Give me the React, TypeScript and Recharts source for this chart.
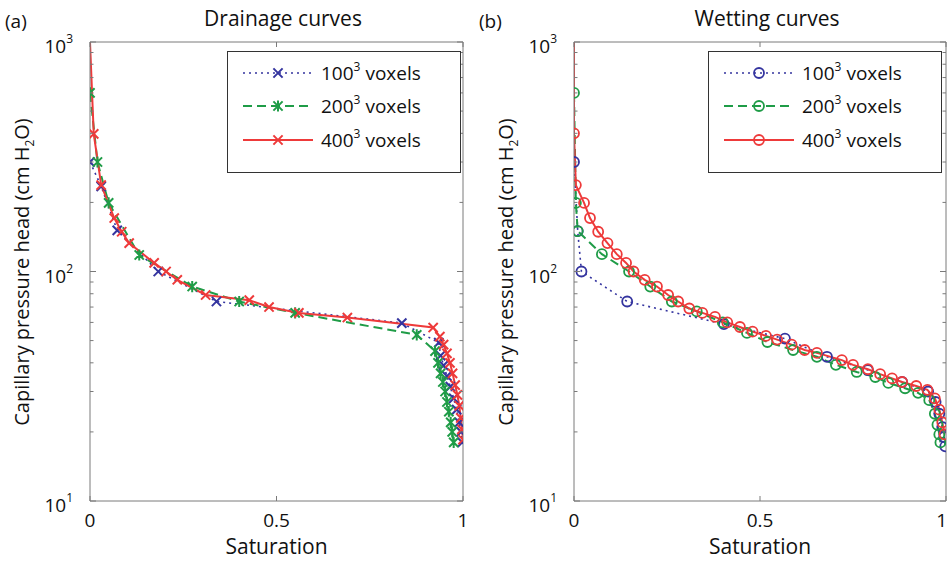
import React from 'react';
import { LineChart, Line, XAxis, YAxis } from 'recharts';

// (a) drainage: saturation s vs capillary pressure head p (cm H2O)
const drain100 = [
  { s: 0, p: 300 }, { s: 0.03, p: 235 }, { s: 0.073, p: 151 }, { s: 0.183, p: 100 },
  { s: 0.339, p: 74 }, { s: 0.836, p: 59.6 }, { s: 0.935, p: 49 }, { s: 0.94, p: 43 },
  { s: 0.948, p: 39 }, { s: 0.957, p: 35 }, { s: 0.966, p: 31.5 }, { s: 0.975, p: 28 },
  { s: 0.983, p: 25 }, { s: 0.99, p: 22 }, { s: 0.995, p: 20 }, { s: 0.998, p: 18 },
];
const drain200 = [
  { s: 0, p: 600 }, { s: 0.02, p: 300 }, { s: 0.05, p: 199 }, { s: 0.132, p: 118 },
  { s: 0.274, p: 86 }, { s: 0.4, p: 74 }, { s: 0.55, p: 66 }, { s: 0.876, p: 53 },
  { s: 0.925, p: 45 }, { s: 0.933, p: 40 }, { s: 0.94, p: 36 }, { s: 0.946, p: 33 },
  { s: 0.952, p: 30 }, { s: 0.957, p: 27 }, { s: 0.962, p: 24.5 }, { s: 0.967, p: 22 },
  { s: 0.971, p: 20 }, { s: 0.975, p: 18 },
];
const drain400 = [
  { s: 0, p: 1000 }, { s: 0.01, p: 398 }, { s: 0.03, p: 238 }, { s: 0.065, p: 171 },
  { s: 0.085, p: 149 }, { s: 0.105, p: 133 }, { s: 0.172, p: 109 }, { s: 0.204, p: 100 },
  { s: 0.234, p: 92 }, { s: 0.31, p: 79 }, { s: 0.427, p: 75 }, { s: 0.48, p: 70 },
  { s: 0.56, p: 66 }, { s: 0.69, p: 63 }, { s: 0.92, p: 57 }, { s: 0.938, p: 52 },
  { s: 0.948, p: 48 }, { s: 0.957, p: 44 }, { s: 0.965, p: 40 }, { s: 0.972, p: 36 },
  { s: 0.979, p: 32 }, { s: 0.985, p: 29 }, { s: 0.99, p: 26 }, { s: 0.994, p: 23 },
  { s: 0.997, p: 20.5 }, { s: 1, p: 18.5 },
];

// (b) wetting
const wet100 = [
  { s: 0, p: 300 }, { s: 0.01, p: 150 }, { s: 0.02, p: 100 }, { s: 0.143, p: 74 },
  { s: 0.403, p: 59 }, { s: 0.567, p: 51 }, { s: 0.68, p: 42.5 }, { s: 0.79, p: 37.2 },
  { s: 0.882, p: 33 }, { s: 0.952, p: 30 }, { s: 0.972, p: 27 }, { s: 0.982, p: 24 },
  { s: 0.99, p: 21 }, { s: 0.995, p: 19 }, { s: 0.998, p: 17.3 },
];
const wet200 = [
  { s: 0, p: 600 }, { s: 0.005, p: 199 }, { s: 0.01, p: 150 }, { s: 0.075, p: 119 },
  { s: 0.148, p: 100 }, { s: 0.205, p: 86 }, { s: 0.263, p: 74 }, { s: 0.33, p: 67 },
  { s: 0.4, p: 60 }, { s: 0.465, p: 54 }, { s: 0.52, p: 49.3 }, { s: 0.589, p: 45.5 },
  { s: 0.653, p: 42.5 }, { s: 0.704, p: 39.2 }, { s: 0.76, p: 36.5 }, { s: 0.81, p: 34.7 },
  { s: 0.845, p: 32.7 }, { s: 0.89, p: 31 }, { s: 0.925, p: 29.6 }, { s: 0.955, p: 27.5 },
  { s: 0.97, p: 24 }, { s: 0.977, p: 21.5 }, { s: 0.982, p: 19.5 }, { s: 0.985, p: 18 },
];
const wet400 = [
  { s: 0, p: 1000 }, { s: 0, p: 400 }, { s: 0.005, p: 238 }, { s: 0.027, p: 199 },
  { s: 0.043, p: 171 }, { s: 0.065, p: 149 }, { s: 0.09, p: 133 }, { s: 0.115, p: 119 },
  { s: 0.14, p: 109 }, { s: 0.16, p: 100 }, { s: 0.19, p: 92 }, { s: 0.223, p: 86 },
  { s: 0.253, p: 79 }, { s: 0.28, p: 74 }, { s: 0.31, p: 69 }, { s: 0.345, p: 66 },
  { s: 0.379, p: 63.4 }, { s: 0.412, p: 60 }, { s: 0.446, p: 57.3 }, { s: 0.48, p: 54.7 },
  { s: 0.516, p: 52.4 }, { s: 0.546, p: 50.5 }, { s: 0.585, p: 48 }, { s: 0.62, p: 45.5 },
  { s: 0.653, p: 44.2 }, { s: 0.72, p: 41.1 }, { s: 0.75, p: 39.2 }, { s: 0.79, p: 37.5 },
  { s: 0.823, p: 35.7 }, { s: 0.855, p: 34.2 }, { s: 0.882, p: 33 }, { s: 0.92, p: 31.7 },
  { s: 0.95, p: 30.5 }, { s: 0.97, p: 28 }, { s: 0.982, p: 25 }, { s: 0.99, p: 22 },
  { s: 0.996, p: 19.5 },
];

const legendLabels = ['100', '200', '400'];
const Y_MAJOR = [10, 100, 1000];
const Y_MINOR = [20, 30, 40, 50, 60, 70, 80, 90, 200, 300, 400, 500, 600, 700, 800, 900];
const Y_TICKS = [...Y_MAJOR, ...Y_MINOR].sort((a, b) => a - b);
const X_TICKS = [0, 0.5, 1];
const X_LABELS = ['0', '0.5', '1'];

const BLUE = '#34349f';
const GREEN = '#1f9c47';
const RED = '#ee3a3a';
const AXIS = '#7a7a7a';
const FONT = '"Open Sans", sans-serif';

type Kind = 'x' | 'star' | 'o';

function Mark({ kind, cx, cy, color }: { kind: Kind; cx: number; cy: number; color: string }) {
  const r = 4.6;
  if (kind === 'o') return <circle cx={cx} cy={cy} r={5} fill="none" stroke={color} strokeWidth={1.8} />;
  let d = `M${cx - r},${cy - r}L${cx + r},${cy + r}M${cx - r},${cy + r}L${cx + r},${cy - r}`;
  if (kind === 'star') d += `M${cx},${cy - r - 1}L${cx},${cy + r + 1}`;
  return <path d={d} stroke={color} strokeWidth={2} fill="none" />;
}

// no marker on the point sitting on the top edge of the axes
const dotFor = (kind: Kind, color: string) => (props: any) => {
  const { cx, cy, index, payload } = props;
  if (cx == null || cy == null || payload.p >= 1000) return <g key={`d${index}`} />;
  return <Mark key={`d${index}`} kind={kind} cx={cx} cy={cy} color={color} />;
};

const LeftTick = (props: any) => {
  const { x, y, payload } = props;
  const v = payload.value;
  const major = Y_MAJOR.includes(v);
  return (
    <g>
      <line x1={x} x2={x + (major ? 6 : 3.5)} y1={y} y2={y} stroke={AXIS} />
      {major && (
        <text x={x - 17} y={y + 11} textAnchor="end" fontSize={19} fill="#111" fontFamily={FONT}>
          10<tspan dy={-10} fontSize={12}>{String(Math.log10(v))}</tspan>
        </text>
      )}
    </g>
  );
};

const RightTick = (props: any) => {
  const { x, y, payload } = props;
  const major = Y_MAJOR.includes(payload.value);
  return <line x1={x - (major ? 6 : 3.5)} x2={x} y1={y} y2={y} stroke={AXIS} />;
};

const BottomTick = (props: any) => {
  const { x, y, payload, index, edge } = props;
  const atEdge = edge && index === X_TICKS.length - 1;
  return (
    <g>
      <line x1={x} x2={x} y1={y} y2={y - 5} stroke={AXIS} />
      <text x={atEdge ? x + 1 : x} y={y + 26} textAnchor={atEdge ? 'end' : 'middle'} fontSize={19}
        fill="#111" fontFamily={FONT}>
        {X_LABELS[index] ?? String(payload.value)}
      </text>
    </g>
  );
};

const TopTick = (props: any) => {
  const { x, y } = props;
  return <line x1={x} x2={x} y1={y} y2={y + 5} stroke={AXIS} />;
};

type Series = { data: { s: number; p: number }[]; color: string; kind: Kind; dash?: string; width: number };

function LegendBox({ left, series }: { left: number; series: Series[] }) {
  const rows = [22, 55, 89];
  return (
    <svg width={234} height={122} style={{ position: 'absolute', left, top: 51 }}>
      <rect x={0.5} y={0.5} width={233} height={121} fill="#fff" stroke="#333" />
      {series.map((s, i) => (
        <g key={i}>
          <line x1={16} x2={86} y1={rows[i]} y2={rows[i]} stroke={s.color} strokeWidth={s.width} strokeDasharray={s.dash} />
          <Mark kind={s.kind} cx={51} cy={rows[i]} color={s.color} />
          <text x={94} y={rows[i] + 7} fontSize={19} fill="#111" fontFamily={FONT}>
            {legendLabels[i]}
            <tspan dy={-9} fontSize={12}>3</tspan>
            <tspan dy={9}> voxels</tspan>
          </text>
        </g>
      ))}
    </svg>
  );
}

function Panel({ left, axisWidth, marginRight, series, title, letter, titleX, legendLeft, edge }: {
  left: number; axisWidth: number; marginRight: number; series: Series[];
  title: string; letter: string; titleX: number; legendLeft: number; edge: boolean;
}) {
  const plotCenter = axisWidth + (474 - axisWidth - marginRight - 1) / 2;
  return (
    <div style={{ position: 'absolute', left, top: 0, width: 474, height: 563 }}>
      <LineChart width={474} height={563} margin={{ top: 41, right: marginRight, bottom: 0, left: 0 }}>
        <XAxis xAxisId={0} dataKey="s" type="number" domain={[0, 1]} ticks={X_TICKS} interval={0}
          allowDataOverflow height={62} tickSize={0} tickMargin={0} tickLine={false}
          axisLine={{ stroke: AXIS }} tick={<BottomTick edge={edge} />} />
        <XAxis xAxisId="top" orientation="top" dataKey="s" type="number" domain={[0, 1]} ticks={X_TICKS}
          interval={0} allowDataOverflow height={1} tickSize={0} tickMargin={0} tickLine={false}
          axisLine={{ stroke: AXIS }} tick={<TopTick />} />
        <YAxis yAxisId={0} type="number" scale="log" domain={[10, 1000]} ticks={Y_TICKS} interval={0}
          allowDataOverflow width={axisWidth} tickSize={0} tickMargin={0} tickLine={false}
          axisLine={{ stroke: AXIS }} tick={<LeftTick />} />
        <YAxis yAxisId="r" orientation="right" type="number" scale="log" domain={[10, 1000]} ticks={Y_TICKS}
          interval={0} allowDataOverflow width={1} tickSize={0} tickMargin={0} tickLine={false}
          axisLine={{ stroke: AXIS }} tick={<RightTick />} />
        {series.map((s, i) => (
          <Line key={i} data={s.data} dataKey="p" type="linear" stroke={s.color} strokeWidth={s.width}
            strokeDasharray={s.dash} dot={dotFor(s.kind, s.color)} activeDot={false}
            isAnimationActive={false} />
        ))}
      </LineChart>
      <div style={{ position: 'absolute', left: 5, top: 8, fontSize: 19, fontFamily: FONT, color: '#111' }}>{letter}</div>
      <div style={{ position: 'absolute', left: titleX, top: 4, transform: 'translateX(-50%)', fontSize: 21,
        fontFamily: FONT, color: '#111', whiteSpace: 'nowrap' }}>{title}</div>
      <div style={{ position: 'absolute', left: plotCenter, top: 532, transform: 'translateX(-50%)', fontSize: 21,
        fontFamily: FONT, color: '#111', whiteSpace: 'nowrap' }}>Saturation</div>
      <div style={{ position: 'absolute', left: axisWidth - 68, top: 272, transform: 'translate(-50%,-50%) rotate(-90deg)',
        fontSize: 20, fontFamily: FONT, color: '#111', whiteSpace: 'nowrap', lineHeight: '24px' }}>
        Capillary pressure head (cm H<sub style={{ fontSize: 12, lineHeight: 0 }}>2</sub>O)
      </div>
      <LegendBox left={legendLeft} series={series} />
    </div>
  );
}

const drainSeries: Series[] = [
  { data: drain100, color: BLUE, kind: 'x', dash: '2 4', width: 1.6 },
  { data: drain200, color: GREEN, kind: 'star', dash: '9 5', width: 2 },
  { data: drain400, color: RED, kind: 'x', width: 2 },
];
const wetSeries: Series[] = [
  { data: wet100, color: BLUE, kind: 'o', dash: '2 4', width: 1.6 },
  { data: wet200, color: GREEN, kind: 'o', dash: '9 5', width: 2 },
  { data: wet400, color: RED, kind: 'o', width: 2 },
];

export default function App() {
  return (
    <div style={{ position: 'absolute', left: 0, top: 0, width: 948, height: 563, background: '#fff', overflow: 'hidden' }}>
      <Panel left={0} axisWidth={90} marginRight={10} series={drainSeries} title="Drainage curves" letter="(a)"
        titleX={283} legendLeft={227} edge={false} />
      <Panel left={474} axisWidth={100} marginRight={1} series={wetSeries} title="Wetting curves" letter="(b)"
        titleX={293} legendLeft={234} edge={true} />
    </div>
  );
}
